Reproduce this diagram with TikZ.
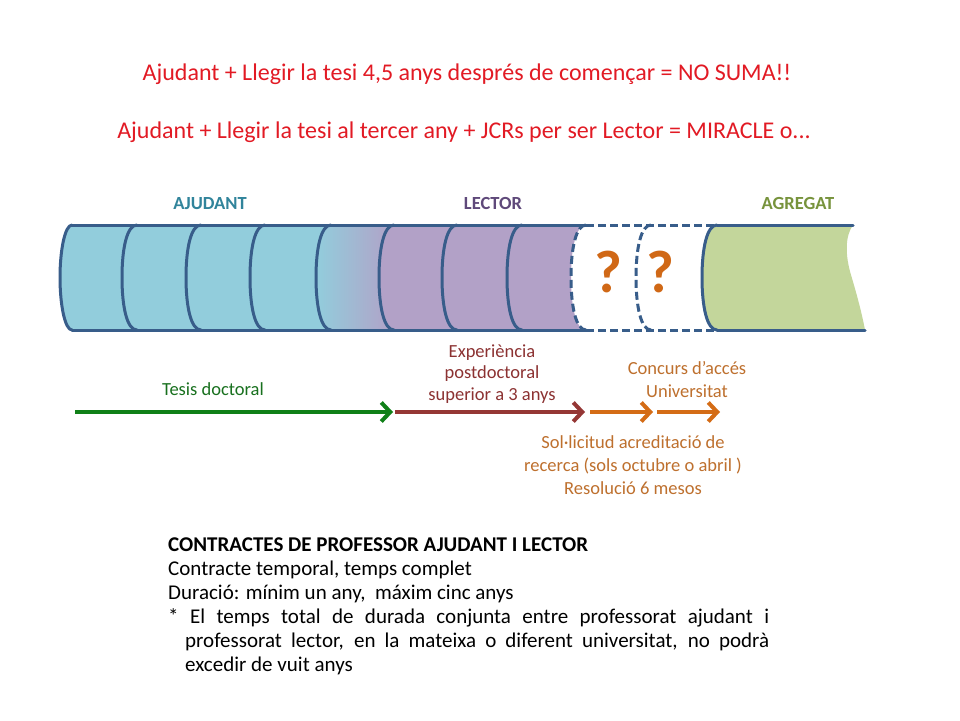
\documentclass[tikz,border=0pt]{standalone}
\usepackage{fontspec}
\setmainfont{Carlito}
\usetikzlibrary{arrows.meta}
\definecolor{titlered}{RGB}{226,26,36}
\definecolor{bandline}{RGB}{56,93,138}
\definecolor{bluefill}{RGB}{146,205,220}
\definecolor{purplefill}{RGB}{178,161,199}
\definecolor{greenfill}{RGB}{195,214,155}
\definecolor{tealtext}{RGB}{49,132,155}
\definecolor{lectortext}{RGB}{95,73,122}
\definecolor{agregtext}{RGB}{119,147,60}
\definecolor{qorange}{RGB}{208,104,22}
\definecolor{greenarrow}{RGB}{16,128,24}
\definecolor{greentext}{RGB}{24,112,30}
\definecolor{redarrow}{RGB}{149,55,53}
\definecolor{redtext}{RGB}{140,50,50}
\definecolor{orangearrow}{RGB}{212,108,22}
\definecolor{orangetext}{RGB}{190,112,46}
% filled region between two arcs (top x of left arc, top x of right arc, options)
\newcommand\bandseg[3]{%
  \path[#3] (#1,225) -- (#2,225)
    .. controls ({#2-10},225) and ({#2-15},248) .. ({#2-15},277.5)
    .. controls ({#2-15},307) and ({#2-10},330) .. (#2,330)
    -- (#1,330)
    .. controls ({#1-10},330) and ({#1-15},307) .. ({#1-15},277.5)
    .. controls ({#1-15},248) and ({#1-10},225) .. (#1,225) -- cycle;}
\newcommand\bandarc[2]{%
  \draw[#2] (#1,225)
    .. controls ({#1-10},225) and ({#1-15},248) .. ({#1-15},277.5)
    .. controls ({#1-15},307) and ({#1-10},330) .. (#1,330);}
\begin{document}
\begin{tikzpicture}[x=1pt,y=-1pt,
  bandstroke/.style={draw=bandline,line width=3pt,line cap=round,line join=round},
  banddash/.style={draw=bandline,line width=3pt,dash pattern=on 8pt off 4pt},
  titletext/.style={text=titlered,font=\fontsize{24}{28}\selectfont,inner sep=0pt,anchor=base},
  phase/.style={font=\bfseries\fontsize{18.5}{22}\selectfont,inner sep=0pt,anchor=base},
  qmark/.style={text=qorange,font=\bfseries\fontsize{60}{70}\selectfont,inner sep=0pt,anchor=base},
  lbl/.style={font=\fontsize{18.5}{22}\selectfont,inner sep=0pt,anchor=base},
  body/.style={font=\fontsize{21}{24}\selectfont,inner sep=0pt,anchor=base west},
  barb/.style={line width=4pt,-{Straight Barb[length=9pt,width=19pt]}}]
\useasboundingbox[fill=white] (0,0) rectangle (960,720);

% titles
\node[titletext] (t1) at (467,80) {Ajudant + Llegir la tesi 4,5 anys després de començar = NO SUMA!!};
\node[titletext] (t2) at (464,138) {Ajudant + Llegir la tesi al tercer any + JCRs per ser Lector = MIRACLE o...};

% phase labels
\node[phase,text=tealtext] (pa) at (210,209) {AJUDANT};
\node[phase,text=lectortext] (pl) at (493,209) {LECTOR};
\node[phase,text=agregtext] (pg) at (798,209) {AGREGAT};

% band fills
\path[fill=bluefill] (72,225) -- (331,225)
    .. controls (321,225) and (316,248) .. (316,277.5)
    .. controls (316,307) and (321,330) .. (331,330)
    -- (72,330)
    .. controls (65,330) and (60,305) .. (60,277.5)
    .. controls (60,250) and (65,225) .. (72,225) -- cycle;
\bandseg{331}{394}{left color=bluefill,right color=purplefill}
\bandseg{394}{586}{fill=purplefill}
\path[fill=greenfill] (717,225) -- (853,225)
    .. controls (845,236) and (845,255) .. (851,275)
    .. controls (857,295) and (862,314) .. (865,330)
    -- (717,330)
    .. controls (707,330) and (702,307) .. (702,277.5)
    .. controls (702,248) and (707,225) .. (717,225) -- cycle;

% band outlines
\draw[bandstroke] (72,225) .. controls (65,225) and (60,250) .. (60,277.5)
    .. controls (60,305) and (65,330) .. (72,330);
\draw[bandstroke] (72,225) -- (586,225);
\draw[bandstroke] (72,330) -- (586,330);
\draw[banddash] (586,225) -- (717,225);
\draw[banddash] (586,330) -- (717,330);
\draw[bandstroke] (717,225) -- (853,225);
\draw[bandstroke] (717,330) -- (865,330);
\foreach \c in {137,201,265,331,394,457,522}{\bandarc{\c}{bandstroke}}
\bandarc{586}{banddash}
\bandarc{651}{banddash}
\bandarc{717}{bandstroke}

% question marks
\node[qmark] (q1) at (608,292) {?};
\node[qmark] (q2) at (660,292) {?};

% arrows
\coordinate (g0) at (75,412);
\coordinate (g1) at (393,412);
\coordinate (r0) at (395,412);
\coordinate (r1) at (585,412);
\coordinate (o0) at (590,412);
\coordinate (o1) at (653,412);
\coordinate (p0) at (657,412);
\coordinate (p1) at (720,412);
\draw[barb,draw=greenarrow] (g0) -- (g1);
\draw[barb,draw=redarrow] (r0) -- (r1);
\draw[barb,draw=orangearrow] (o0) -- (o1);
\draw[barb,draw=orangearrow] (p0) -- (p1);

% arrow labels
\node[lbl,text=greentext] (lt) at (213,395) {Tesis doctoral};
\node[lbl,text=redtext] (le1) at (492,357) {Experiència};
\node[lbl,text=redtext] (le2) at (492,378.5) {postdoctoral};
\node[lbl,text=redtext] (le3) at (492,400) {superior a 3 anys};
\node[lbl,text=orangetext] (lc1) at (687,374) {Concurs d’accés};
\node[lbl,text=orangetext] (lc2) at (687,397) {Universitat};
\node[lbl,text=orangetext] (ls1) at (633,448) {Sol·licitud acreditació de};
\node[lbl,text=orangetext] (ls2) at (633,471.5) {recerca (sols octubre o abril )};
\node[lbl,text=orangetext] (ls3) at (633,494.5) {Resolució 6 mesos};

% contract text
\node[body,font=\bfseries\fontsize{21}{24}\selectfont] (b1) at (168,551) {CONTRACTES DE PROFESSOR AJUDANT I LECTOR};
\node[body] (b2) at (168,575) {Contracte temporal, temps complet};
\node[body] (b3) at (168,599) {Duració: mínim un any,\ \ máxim cinc anys};
\node[body] (b4) at (168,623) {\makebox[601pt][s]{* El temps total de durada conjunta entre professorat ajudant i}};
\node[body] (b5) at (185,647) {\makebox[584pt][s]{professorat lector, en la mateixa o diferent universitat, no podrà}};
\node[body] (b6) at (185,671) {excedir de vuit anys};
\end{tikzpicture}
\end{document}
